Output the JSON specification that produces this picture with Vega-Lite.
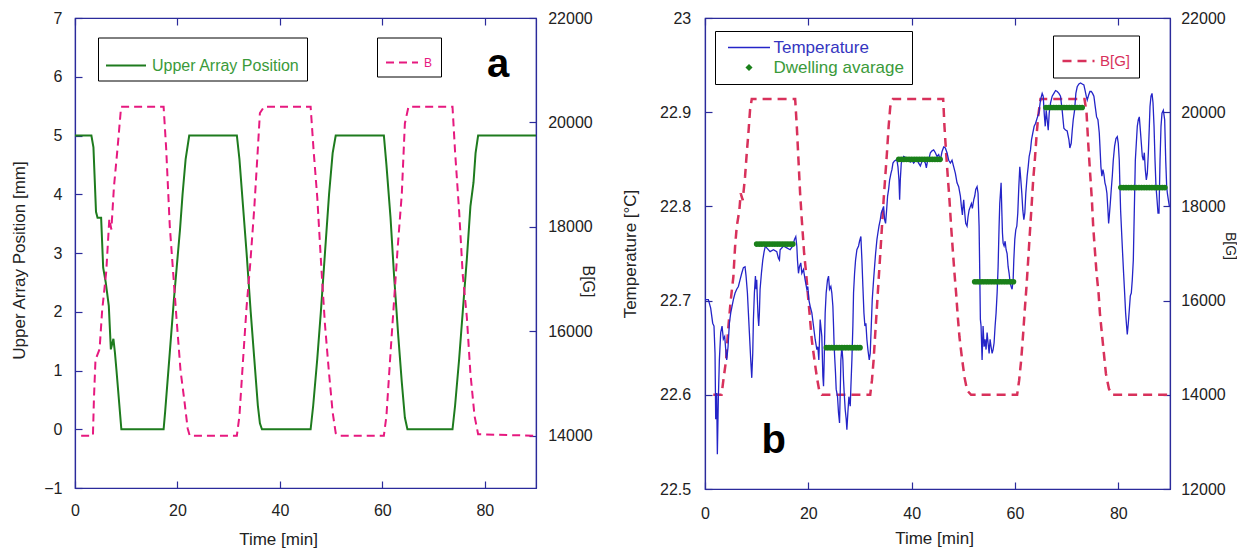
{
"$schema":"https://vega.github.io/schema/vega-lite/v6.json",
"padding":{"left":9,"top":9,"right":0,"bottom":0},
"background":"white",
"spacing":24,
"resolve":{"scale":{"color":"independent","strokeDash":"independent"},"legend":{"color":"independent","strokeDash":"independent"}},
"config":{
 "font":"Liberation Sans",
 "view":{"stroke":"#2b2b9b","strokeWidth":1.2},
 "axis":{"grid":false,"domainColor":"#2b2b9b","domainWidth":1.2,"tickColor":"#2b2b9b","tickWidth":1.2,"tickSize":-7,"labelFont":"Liberation Sans","labelFontSize":16,"labelColor":"#222222","titleFont":"Liberation Sans","titleFontSize":17,"titleFontWeight":"normal","titleColor":"#222222","labelFlush":false,"labelOverlap":false},
 "legend":{"labelFont":"Liberation Sans","strokeColor":"#000000","fillColor":"#ffffff"}
},
"hconcat":[
{
 "width":461,"height":470,
 "layer":[
  {"data":{"values":[
   {"t":0,"p":5},{"t":3.2,"p":5},{"t":3.6,"p":4.8},{"t":4.1,"p":3.7},{"t":4.4,"p":3.6},{"t":5.1,"p":3.6},{"t":5.5,"p":2.75},{"t":6.0,"p":2.5},{"t":6.6,"p":2.1},{"t":7.0,"p":1.36},{"t":7.5,"p":1.54},{"t":7.8,"p":1.3},{"t":8.1,"p":1.0},{"t":9.05,"p":0},
   {"t":17.3,"p":0},{"t":17.6,"p":0.3},{"t":18.5,"p":1.3},{"t":19.3,"p":2.2},{"t":20.0,"p":2.9},{"t":20.5,"p":3.4},{"t":21.0,"p":4.0},{"t":21.6,"p":4.6},{"t":22.3,"p":5},
   {"t":31.6,"p":5},{"t":32.1,"p":4.6},{"t":32.8,"p":3.8},{"t":33.5,"p":3.0},{"t":34.3,"p":2.0},{"t":35.0,"p":1.2},{"t":35.7,"p":0.4},{"t":36.1,"p":0.1},{"t":36.5,"p":0},
   {"t":46,"p":0},{"t":46.5,"p":0.4},{"t":47.3,"p":1.2},{"t":48.0,"p":2.0},{"t":48.8,"p":3.0},{"t":49.6,"p":4.0},{"t":50.3,"p":4.7},{"t":50.9,"p":5},
   {"t":60.3,"p":5},{"t":60.8,"p":4.5},{"t":61.6,"p":3.6},{"t":62.3,"p":2.6},{"t":63.1,"p":1.6},{"t":63.8,"p":0.8},{"t":64.4,"p":0.2},{"t":64.9,"p":0},
   {"t":73.7,"p":0},{"t":74.2,"p":0.4},{"t":75.0,"p":1.2},{"t":75.7,"p":2.0},{"t":76.5,"p":2.9},{"t":77.2,"p":3.8},{"t":77.8,"p":4.2},{"t":78.2,"p":4.7},{"t":78.7,"p":5},{"t":90,"p":5}
  ]},
  "mark":{"type":"line","strokeWidth":2},
  "encoding":{
   "x":{"field":"t","type":"quantitative","scale":{"domain":[0,90]},"axis":{"orient":"bottom","values":[0,20,40,60,80],"title":"Time [min]","labelPadding":21.5,"titleX":203,"titleY":51.5,"titleBaseline":"middle"}},
   "y":{"field":"p","type":"quantitative","scale":{"domain":[-1,7]},"axis":{"orient":"left","values":[-1,0,1,2,3,4,5,6,7],"title":"Upper Array Position [mm]","labelPadding":20,"titleX":-56,"titleY":242,"titleBaseline":"middle"}},
   "color":{"datum":"Upper Array Position","type":"nominal","scale":{"domain":["Upper Array Position"],"range":["#1e7b1e"]},"legend":{"orient":"none","legendX":23,"legendY":19.5,"title":null,"padding":7,"symbolType":"stroke","symbolSize":1600,"symbolStrokeWidth":2,"labelFontSize":16,"labelColor":"#3a9a3a","labelOffset":5}}
  }},
  {"data":{"values":[
   {"t":1.2,"B":14000},{"t":3.5,"B":14000},{"t":3.7,"B":14715},{"t":4.0,"B":15457},{"t":4.8,"B":15660},{"t":5.3,"B":16400},{"t":6.1,"B":17143},{"t":6.7,"B":18155},{"t":7.1,"B":17950},{"t":7.6,"B":18762},{"t":8.3,"B":19500},{"t":9.0,"B":20300},
   {"t":17.3,"B":20300},{"t":17.8,"B":19500},{"t":18.5,"B":18020},{"t":19.3,"B":16940},{"t":19.8,"B":16270},{"t":20.6,"B":15250},{"t":21.3,"B":14715},{"t":22.0,"B":14140},{"t":22.4,"B":14000},
   {"t":31.6,"B":14000},{"t":32.1,"B":14380},{"t":32.9,"B":15590},{"t":33.5,"B":16470},{"t":34.2,"B":17280},{"t":35.0,"B":18360},{"t":35.7,"B":19500},{"t":36.1,"B":20180},{"t":36.9,"B":20300},
   {"t":46.0,"B":20300},{"t":46.6,"B":19440},{"t":47.3,"B":18560},{"t":48.1,"B":17210},{"t":48.8,"B":16130},{"t":49.6,"B":15190},{"t":50.3,"B":14450},{"t":50.9,"B":14050},{"t":51.5,"B":14000},
   {"t":60.3,"B":14000},{"t":60.8,"B":14380},{"t":61.6,"B":15590},{"t":62.3,"B":16600},{"t":63.0,"B":17610},{"t":63.8,"B":18630},{"t":64.4,"B":19980},{"t":65.1,"B":20300},
   {"t":73.7,"B":20300},{"t":74.2,"B":19440},{"t":75.0,"B":18290},{"t":75.7,"B":17080},{"t":76.5,"B":16270},{"t":77.2,"B":15190},{"t":78.0,"B":14380},{"t":78.7,"B":14030},{"t":89.8,"B":14000}
  ]},
  "mark":{"type":"line","strokeWidth":2,"color":"#e6197f"},
  "encoding":{
   "x":{"field":"t","type":"quantitative","scale":{"domain":[0,90]},"axis":{"orient":"top","values":[0,20,40,60,80],"labels":false,"title":null}},
   "y":{"field":"B","type":"quantitative","scale":{"domain":[13000,22000]},"axis":{"orient":"right","values":[14000,16000,18000,20000,22000],"format":"d","title":"B[G]","titleFontSize":16,"labelPadding":18.7,"titleX":51,"titleY":263,"titleBaseline":"middle"}},
   "strokeDash":{"datum":"B","type":"nominal","scale":{"domain":["B"],"range":[[8,5]]},"legend":{"orient":"none","legendX":302,"legendY":19.5,"title":null,"padding":8,"symbolType":"stroke","symbolSize":1024,"symbolStrokeWidth":2,"symbolStrokeColor":"#e6197f","labelFontSize":12,"labelColor":"#e6197f","labelOffset":5}}
  }},
  {"data":{"values":[{"s":"a"}]},
  "mark":{"type":"text","fontSize":40,"fontWeight":"bold","align":"center","baseline":"alphabetic","color":"#000000"},
  "encoding":{"text":{"field":"s"},"x":{"datum":82.6,"type":"quantitative","scale":{"domain":[0,90]},"axis":null},"y":{"datum":6.0,"type":"quantitative","scale":{"domain":[-1,7]},"axis":null}}}
 ],
 "resolve":{"scale":{"y":"independent"},"axis":{"x":"independent"}}
},
{
 "width":465,"height":471,
 "layer":[
  {"data":{"values":[
   {"t":1.6,"B":14000},{"t":3.2,"B":14000},{"t":3.55,"B":14305},{"t":4.07,"B":14730},{"t":4.52,"B":15440},{"t":4.98,"B":16007},{"t":5.49,"B":16504},{"t":5.82,"B":17142},{"t":6.14,"B":17567},{"t":6.65,"B":17922},{"t":6.91,"B":18277},{"t":7.30,"B":18135},{"t":7.75,"B":18631},{"t":8.08,"B":19128},{"t":8.40,"B":19553},{"t":8.72,"B":20050},{"t":9.05,"B":20280},
   {"t":17.45,"B":20280},{"t":17.77,"B":19695},{"t":18.09,"B":18986},{"t":18.41,"B":18277},{"t":18.74,"B":17709},{"t":19.19,"B":17000},{"t":19.58,"B":16575},{"t":19.90,"B":16149},{"t":20.35,"B":15582},{"t":20.68,"B":15156},{"t":21.19,"B":14731},{"t":21.65,"B":14376},{"t":22.16,"B":14057},{"t":22.61,"B":14000},
   {"t":31.98,"B":14000},{"t":32.31,"B":14305},{"t":32.63,"B":14730},{"t":32.95,"B":15298},{"t":33.28,"B":15865},{"t":33.60,"B":16433},{"t":33.93,"B":17000},{"t":34.25,"B":17567},{"t":34.57,"B":18135},{"t":34.89,"B":18631},{"t":35.21,"B":19128},{"t":35.54,"B":19695},{"t":35.86,"B":20120},{"t":36.38,"B":20280},
   {"t":46.1,"B":20280},{"t":46.35,"B":19695},{"t":46.67,"B":19128},{"t":46.99,"B":18631},{"t":47.32,"B":18135},{"t":47.64,"B":17567},{"t":47.96,"B":17071},{"t":48.29,"B":16575},{"t":48.61,"B":16149},{"t":48.93,"B":15653},{"t":49.25,"B":15227},{"t":49.71,"B":14802},{"t":50.22,"B":14376},{"t":50.74,"B":14092},{"t":51.5,"B":14000},
   {"t":60.41,"B":14000},{"t":60.80,"B":14305},{"t":61.19,"B":14730},{"t":61.58,"B":15298},{"t":61.84,"B":15724},{"t":62.22,"B":16291},{"t":62.55,"B":16858},{"t":62.87,"B":17426},{"t":63.20,"B":17993},{"t":63.52,"B":18560},{"t":63.84,"B":18986},{"t":64.16,"B":19482},{"t":64.48,"B":19908},{"t":64.94,"B":20280},
   {"t":73.46,"B":20280},{"t":73.85,"B":19979},{"t":74.17,"B":19340},{"t":74.50,"B":18773},{"t":74.88,"B":18135},{"t":75.14,"B":17567},{"t":75.46,"B":17071},{"t":75.79,"B":16575},{"t":76.18,"B":16149},{"t":76.44,"B":15724},{"t":76.82,"B":15298},{"t":77.21,"B":14873},{"t":77.60,"B":14447},{"t":78.18,"B":14128},{"t":78.83,"B":14000},{"t":89.88,"B":14000}
  ]},
  "mark":{"type":"line","strokeWidth":2.5,"color":"#d8315b"},
  "encoding":{
   "x":{"field":"t","type":"quantitative","scale":{"domain":[0,90]},"axis":{"orient":"top","values":[0,20,40,60,80],"labels":false,"title":null}},
   "y":{"field":"B","type":"quantitative","scale":{"domain":[12000,22000]},"axis":{"orient":"right","values":[12000,14000,16000,18000,20000,22000],"format":"d","title":"B[G]","titleFontSize":14,"labelPadding":17.7,"titleX":59,"titleY":227.5,"titleBaseline":"middle"}},
   "strokeDash":{"datum":"B[G]","type":"nominal","scale":{"domain":["B[G]"],"range":[[9,6]]},"legend":{"orient":"none","legendX":348,"legendY":17.5,"title":null,"padding":8,"symbolType":"stroke","symbolSize":1024,"symbolStrokeWidth":2.5,"symbolStrokeColor":"#d8315b","labelFontSize":15,"labelColor":"#d8315b","labelOffset":4}}
  }},
  {"data":{"values":[
   {"t":0,"T":22.701},{"t":0.65,"T":22.701},{"t":1.10,"T":22.692},{"t":1.49,"T":22.676},{"t":1.74,"T":22.673},{"t":1.94,"T":22.644},{"t":2.07,"T":22.574},{"t":2.26,"T":22.602},{"t":2.39,"T":22.537},{"t":2.58,"T":22.595},{"t":2.78,"T":22.637},{"t":3.04,"T":22.666},{"t":3.30,"T":22.673},{"t":3.55,"T":22.659},{"t":3.81,"T":22.662},{"t":4.07,"T":22.644},{"t":4.20,"T":22.637},{"t":4.46,"T":22.651},{"t":4.72,"T":22.676},{"t":4.98,"T":22.687},{"t":5.23,"T":22.694},{"t":5.49,"T":22.701},{"t":5.82,"T":22.708},{"t":6.14,"T":22.712},{"t":6.46,"T":22.715},{"t":6.78,"T":22.722},{"t":7.11,"T":22.729},{"t":7.43,"T":22.735},{"t":7.75,"T":22.736},{"t":7.95,"T":22.726},{"t":8.21,"T":22.708},{"t":8.40,"T":22.687},{"t":8.59,"T":22.666},{"t":8.85,"T":22.637},{"t":9.05,"T":22.618},{"t":9.24,"T":22.644},{"t":9.37,"T":22.680},{"t":9.56,"T":22.708},{"t":9.76,"T":22.726},{"t":9.89,"T":22.712},{"t":10.01,"T":22.722},{"t":10.14,"T":22.701},{"t":10.27,"T":22.683},{"t":10.40,"T":22.673},{"t":10.53,"T":22.687},{"t":10.66,"T":22.712},{"t":10.92,"T":22.729},{"t":11.18,"T":22.743},{"t":11.44,"T":22.752},{"t":11.69,"T":22.758},{"t":11.95,"T":22.756},{"t":12.60,"T":22.752},{"t":13.25,"T":22.754},{"t":13.89,"T":22.752},{"t":14.21,"T":22.745},{"t":14.41,"T":22.743},{"t":14.54,"T":22.754},{"t":15.18,"T":22.758},{"t":15.83,"T":22.756},{"t":16.48,"T":22.754},{"t":16.99,"T":22.758},{"t":17.32,"T":22.765},{"t":17.57,"T":22.768},{"t":17.77,"T":22.758},{"t":17.90,"T":22.743},{"t":18.09,"T":22.729},{"t":18.28,"T":22.736},{"t":18.54,"T":22.740},{"t":18.74,"T":22.729},{"t":19.06,"T":22.733},{"t":19.38,"T":22.722},{"t":19.71,"T":22.712},{"t":19.90,"T":22.715},{"t":20.09,"T":22.701},{"t":20.35,"T":22.694},{"t":20.68,"T":22.687},{"t":21.00,"T":22.673},{"t":21.32,"T":22.659},{"t":21.65,"T":22.648},{"t":21.84,"T":22.651},{"t":22.03,"T":22.637},
   {"t":22.29,"T":22.680},{"t":22.61,"T":22.662},{"t":22.81,"T":22.620},{"t":22.94,"T":22.609},{"t":23.07,"T":22.637},{"t":23.26,"T":22.687},{"t":23.45,"T":22.708},{"t":23.71,"T":22.722},{"t":23.91,"T":22.726},{"t":24.10,"T":22.712},{"t":24.36,"T":22.715},{"t":24.55,"T":22.708},{"t":24.75,"T":22.694},{"t":24.88,"T":22.673},{"t":25.00,"T":22.651},{"t":25.13,"T":22.637},{"t":25.26,"T":22.623},{"t":25.39,"T":22.606},{"t":25.65,"T":22.598},{"t":25.84,"T":22.581},{"t":26.04,"T":22.570},{"t":26.17,"T":22.602},{"t":26.30,"T":22.637},{"t":26.49,"T":22.651},{"t":26.68,"T":22.637},{"t":26.81,"T":22.616},{"t":26.94,"T":22.602},{"t":27.14,"T":22.584},{"t":27.33,"T":22.574},{"t":27.46,"T":22.563},{"t":27.65,"T":22.581},{"t":27.85,"T":22.598},{"t":28.11,"T":22.588},{"t":28.24,"T":22.609},{"t":28.43,"T":22.637},{"t":28.62,"T":22.673},{"t":28.75,"T":22.708},{"t":28.95,"T":22.729},{"t":29.14,"T":22.743},{"t":29.40,"T":22.754},{"t":29.72,"T":22.758},{"t":29.91,"T":22.763},{"t":30.17,"T":22.768},{"t":30.37,"T":22.743},{"t":30.56,"T":22.715},{"t":30.76,"T":22.687},{"t":30.95,"T":22.673},{"t":31.14,"T":22.676},{"t":31.33,"T":22.659},{"t":31.53,"T":22.648},{"t":31.79,"T":22.637},{"t":31.98,"T":22.644},{"t":32.18,"T":22.673},{"t":32.37,"T":22.701},{"t":32.63,"T":22.722},{"t":32.82,"T":22.736},{"t":33.02,"T":22.750},{"t":33.28,"T":22.765},{"t":33.47,"T":22.772},{"t":33.67,"T":22.779},{"t":33.93,"T":22.786},{"t":34.12,"T":22.793},{"t":34.31,"T":22.796},{"t":34.57,"T":22.800},{"t":34.76,"T":22.786},{"t":34.95,"T":22.782},{"t":35.15,"T":22.796},{"t":35.34,"T":22.811},{"t":35.54,"T":22.818},{"t":35.73,"T":22.828},{"t":35.99,"T":22.835},{"t":36.18,"T":22.839},{"t":36.38,"T":22.846},{"t":36.63,"T":22.848},{"t":36.89,"T":22.849},{"t":37.15,"T":22.849},{"t":37.35,"T":22.842},{"t":37.54,"T":22.828},{"t":37.67,"T":22.807},{"t":37.80,"T":22.828},{"t":37.99,"T":22.846},{"t":38.19,"T":22.849},{"t":38.45,"T":22.853},{"t":38.77,"T":22.852},{"t":39.09,"T":22.851},{"t":39.41,"T":22.849},{"t":39.74,"T":22.847},{"t":40.06,"T":22.849},{"t":40.38,"T":22.846},{"t":40.71,"T":22.848},{"t":41.03,"T":22.849},{"t":41.35,"T":22.846},{"t":41.68,"T":22.843},{"t":42.00,"T":22.848},{"t":42.32,"T":22.849},{"t":42.65,"T":22.846},{"t":42.84,"T":22.841},{"t":43.10,"T":22.849},{"t":43.36,"T":22.851},{"t":43.62,"T":22.857},{"t":43.94,"T":22.859},{"t":44.26,"T":22.860},{"t":44.59,"T":22.857},{"t":44.91,"T":22.853},{"t":45.23,"T":22.855},
   {"t":45.55,"T":22.849},{"t":45.87,"T":22.858},{"t":46.20,"T":22.863},{"t":46.52,"T":22.862},{"t":46.84,"T":22.857},{"t":47.17,"T":22.849},{"t":47.49,"T":22.846},{"t":47.81,"T":22.849},{"t":48.14,"T":22.842},{"t":48.46,"T":22.835},{"t":48.78,"T":22.825},{"t":49.10,"T":22.821},{"t":49.43,"T":22.811},{"t":49.62,"T":22.800},{"t":49.82,"T":22.791},{"t":49.94,"T":22.800},{"t":50.07,"T":22.807},{"t":50.27,"T":22.793},{"t":50.46,"T":22.782},{"t":50.72,"T":22.779},{"t":50.91,"T":22.789},{"t":51.11,"T":22.796},{"t":51.37,"T":22.800},{"t":51.56,"T":22.803},{"t":51.75,"T":22.798},{"t":52.01,"T":22.807},{"t":52.21,"T":22.811},{"t":52.40,"T":22.818},{"t":52.66,"T":22.821},{"t":52.85,"T":22.814},{"t":53.05,"T":22.779},{"t":53.18,"T":22.729},{"t":53.30,"T":22.680},{"t":53.43,"T":22.673},{"t":53.63,"T":22.637},{"t":53.82,"T":22.673},{"t":54.02,"T":22.651},{"t":54.21,"T":22.659},{"t":54.40,"T":22.648},{"t":54.60,"T":22.666},{"t":54.79,"T":22.655},{"t":54.99,"T":22.644},{"t":55.18,"T":22.659},{"t":55.37,"T":22.651},{"t":55.57,"T":22.644},{"t":55.76,"T":22.648},{"t":55.95,"T":22.655},{"t":56.15,"T":22.673},{"t":56.34,"T":22.687},{"t":56.54,"T":22.708},{"t":56.73,"T":22.736},{"t":56.92,"T":22.779},{"t":57.05,"T":22.803},{"t":57.18,"T":22.814},{"t":57.31,"T":22.825},{"t":57.44,"T":22.797},{"t":57.57,"T":22.772},{"t":57.70,"T":22.761},{"t":57.89,"T":22.758},{"t":58.09,"T":22.763},{"t":58.28,"T":22.754},{"t":58.47,"T":22.750},{"t":58.67,"T":22.736},{"t":58.86,"T":22.729},{"t":59.06,"T":22.719},{"t":59.25,"T":22.715},{"t":59.44,"T":22.712},{"t":59.64,"T":22.722},{"t":59.77,"T":22.743},{"t":59.96,"T":22.765},{"t":60.15,"T":22.775},{"t":60.35,"T":22.779},{"t":60.54,"T":22.793},{"t":60.74,"T":22.821},{"t":60.93,"T":22.842},{"t":61.13,"T":22.828},{"t":61.32,"T":22.814},{"t":61.51,"T":22.796},{"t":61.71,"T":22.786},{"t":61.90,"T":22.793},{"t":62.09,"T":22.814},{"t":62.35,"T":22.832},{"t":62.55,"T":22.842},{"t":62.74,"T":22.853},{"t":63.00,"T":22.860},{"t":63.20,"T":22.871},{"t":63.45,"T":22.878},{"t":63.71,"T":22.885},{"t":63.97,"T":22.888},{"t":64.30,"T":22.894},{"t":64.61,"T":22.899},{"t":64.94,"T":22.913},{"t":65.26,"T":22.920},{"t":65.46,"T":22.917},{"t":65.65,"T":22.899},{"t":65.85,"T":22.885},{"t":66.04,"T":22.902},{"t":66.23,"T":22.892},{"t":66.43,"T":22.881},{"t":66.62,"T":22.899},{"t":66.88,"T":22.910},{"t":67.20,"T":22.917},{"t":67.53,"T":22.920},{"t":67.85,"T":22.923},{"t":68.17,"T":22.922},{"t":68.50,"T":22.920},
   {"t":68.81,"T":22.917},{"t":69.13,"T":22.902},{"t":69.46,"T":22.883},{"t":69.78,"T":22.881},{"t":70.10,"T":22.880},{"t":70.43,"T":22.871},{"t":70.62,"T":22.862},{"t":70.88,"T":22.867},{"t":71.07,"T":22.880},{"t":71.27,"T":22.892},{"t":71.53,"T":22.902},{"t":71.78,"T":22.920},{"t":72.04,"T":22.927},{"t":72.37,"T":22.930},{"t":72.69,"T":22.931},{"t":73.01,"T":22.930},{"t":73.33,"T":22.929},{"t":73.53,"T":22.924},{"t":73.79,"T":22.917},{"t":73.98,"T":22.913},{"t":74.24,"T":22.918},{"t":74.50,"T":22.922},{"t":74.76,"T":22.922},{"t":75.01,"T":22.920},{"t":75.27,"T":22.917},{"t":75.53,"T":22.906},{"t":75.79,"T":22.895},{"t":76.05,"T":22.892},{"t":76.31,"T":22.878},{"t":76.44,"T":22.864},{"t":76.63,"T":22.842},{"t":76.82,"T":22.832},{"t":77.02,"T":22.839},{"t":77.21,"T":22.834},{"t":77.41,"T":22.825},{"t":77.60,"T":22.821},{"t":77.79,"T":22.814},{"t":77.99,"T":22.796},{"t":78.12,"T":22.782},{"t":78.24,"T":22.789},{"t":78.44,"T":22.803},{"t":78.63,"T":22.818},{"t":78.83,"T":22.832},{"t":79.02,"T":22.849},{"t":79.28,"T":22.864},{"t":79.54,"T":22.872},{"t":79.80,"T":22.874},{"t":79.99,"T":22.867},{"t":80.18,"T":22.849},{"t":80.31,"T":22.821},{"t":80.44,"T":22.796},{"t":80.64,"T":22.772},{"t":80.83,"T":22.750},{"t":81.02,"T":22.729},{"t":81.22,"T":22.708},{"t":81.41,"T":22.687},{"t":81.60,"T":22.673},{"t":81.73,"T":22.664},{"t":81.93,"T":22.676},{"t":82.12,"T":22.690},{"t":82.32,"T":22.705},{"t":82.51,"T":22.708},{"t":82.70,"T":22.722},{"t":82.90,"T":22.743},{"t":83.03,"T":22.779},{"t":83.16,"T":22.814},{"t":83.29,"T":22.849},{"t":83.48,"T":22.867},{"t":83.67,"T":22.885},{"t":83.87,"T":22.892},{"t":84.06,"T":22.895},{"t":84.26,"T":22.881},{"t":84.45,"T":22.867},{"t":84.64,"T":22.853},{"t":84.84,"T":22.849},{"t":85.03,"T":22.857},{"t":85.22,"T":22.839},{"t":85.42,"T":22.828},{"t":85.61,"T":22.835},{"t":85.81,"T":22.857},{"t":86.00,"T":22.885},{"t":86.13,"T":22.906},{"t":86.32,"T":22.917},{"t":86.52,"T":22.920},{"t":86.71,"T":22.910},{"t":86.91,"T":22.885},{"t":87.10,"T":22.849},{"t":87.29,"T":22.821},{"t":87.49,"T":22.807},{"t":87.68,"T":22.793},{"t":87.87,"T":22.793},{"t":88.07,"T":22.849},{"t":88.26,"T":22.885},{"t":88.45,"T":22.899},{"t":88.71,"T":22.902},{"t":88.97,"T":22.892},{"t":89.17,"T":22.849},{"t":89.36,"T":22.821},{"t":89.49,"T":22.814},{"t":89.68,"T":22.807},{"t":89.88,"T":22.800}
  ]},
  "mark":{"type":"line","strokeWidth":1.3},
  "encoding":{
   "x":{"field":"t","type":"quantitative","scale":{"domain":[0,90]},"axis":{"orient":"bottom","values":[0,20,40,60,80],"title":"Time [min]","labelPadding":23.8,"titleX":229,"titleY":49.5,"titleBaseline":"middle"}},
   "y":{"field":"T","type":"quantitative","scale":{"domain":[22.5,23]},"axis":{"orient":"left","values":[22.5,22.6,22.7,22.8,22.9,23],"format":".3~r","title":"Temperature [°C]","labelPadding":21.3,"titleX":-75,"titleBaseline":"middle"}},
   "color":{"datum":"Temperature","type":"nominal","scale":{"domain":["Temperature","Dwelling avarage"],"range":["#2424c8","#1a801a"]},
    "legend":{"orient":"none","legendX":10,"legendY":13,"title":null,"padding":8,"symbolSize":1764,"symbolType":"stroke","labelFontSize":17,"labelOffset":16,"symbolOffset":17.5,"rowPadding":2,
     "encode":{
      "symbols":{"update":{
       "shape":{"signal":"datum.value === 'Temperature' ? 'stroke' : 'diamond'"},
       "size":{"signal":"datum.value === 'Temperature' ? 1764 : 25"},
       "fill":{"signal":"datum.value === 'Temperature' ? 'transparent' : '#1a801a'"},
       "stroke":{"signal":"datum.value === 'Temperature' ? '#2424c8' : '#1a801a'"},
       "strokeWidth":{"value":1.5},
       "opacity":{"value":1}
      }},
      "labels":{"update":{"fill":{"signal":"datum.value === 'Temperature' ? '#3535c0' : '#3a9a3a'"}}}
     }}}
  }},
  {"data":{"values":[
   {"t":10,"T":22.76},{"t":10.5,"T":22.76},{"t":11,"T":22.76},{"t":11.5,"T":22.76},{"t":12,"T":22.76},{"t":12.5,"T":22.76},{"t":13,"T":22.76},{"t":13.5,"T":22.76},{"t":14,"T":22.76},{"t":14.5,"T":22.76},{"t":15,"T":22.76},{"t":15.5,"T":22.76},{"t":16,"T":22.76},{"t":16.5,"T":22.76},{"t":17,"T":22.76},
   {"t":23.5,"T":22.65},{"t":24,"T":22.65},{"t":24.5,"T":22.65},{"t":25,"T":22.65},{"t":25.5,"T":22.65},{"t":26,"T":22.65},{"t":26.5,"T":22.65},{"t":27,"T":22.65},{"t":27.5,"T":22.65},{"t":28,"T":22.65},{"t":28.5,"T":22.65},{"t":29,"T":22.65},{"t":29.5,"T":22.65},{"t":30,"T":22.65},
   {"t":37.5,"T":22.85},{"t":38,"T":22.85},{"t":38.5,"T":22.85},{"t":39,"T":22.85},{"t":39.5,"T":22.85},{"t":40,"T":22.85},{"t":40.5,"T":22.85},{"t":41,"T":22.85},{"t":41.5,"T":22.85},{"t":42,"T":22.85},{"t":42.5,"T":22.85},{"t":43,"T":22.85},{"t":43.5,"T":22.85},{"t":44,"T":22.85},{"t":44.5,"T":22.85},{"t":45,"T":22.85},{"t":45.5,"T":22.85},
   {"t":52.2,"T":22.72},{"t":52.7,"T":22.72},{"t":53.2,"T":22.72},{"t":53.7,"T":22.72},{"t":54.2,"T":22.72},{"t":54.7,"T":22.72},{"t":55.2,"T":22.72},{"t":55.7,"T":22.72},{"t":56.2,"T":22.72},{"t":56.7,"T":22.72},{"t":57.2,"T":22.72},{"t":57.7,"T":22.72},{"t":58.2,"T":22.72},{"t":58.7,"T":22.72},{"t":59.2,"T":22.72},{"t":59.7,"T":22.72},
   {"t":66,"T":22.905},{"t":66.5,"T":22.905},{"t":67,"T":22.905},{"t":67.5,"T":22.905},{"t":68,"T":22.905},{"t":68.5,"T":22.905},{"t":69,"T":22.905},{"t":69.5,"T":22.905},{"t":70,"T":22.905},{"t":70.5,"T":22.905},{"t":71,"T":22.905},{"t":71.5,"T":22.905},{"t":72,"T":22.905},{"t":72.5,"T":22.905},{"t":73,"T":22.905},
   {"t":80.5,"T":22.82},{"t":81,"T":22.82},{"t":81.5,"T":22.82},{"t":82,"T":22.82},{"t":82.5,"T":22.82},{"t":83,"T":22.82},{"t":83.5,"T":22.82},{"t":84,"T":22.82},{"t":84.5,"T":22.82},{"t":85,"T":22.82},{"t":85.5,"T":22.82},{"t":86,"T":22.82},{"t":86.5,"T":22.82},{"t":87,"T":22.82},{"t":87.5,"T":22.82},{"t":88,"T":22.82},{"t":88.5,"T":22.82},{"t":89,"T":22.82}
  ]},
  "mark":{"type":"point","shape":"circle","filled":true,"size":32,"opacity":1},
  "encoding":{
   "x":{"field":"t","type":"quantitative","scale":{"domain":[0,90]},"axis":null},
   "y":{"field":"T","type":"quantitative","scale":{"domain":[22.5,23]},"axis":null},
   "color":{"datum":"Dwelling avarage","type":"nominal"}
  }},
  {"data":{"values":[{"s":"b"}]},
  "mark":{"type":"text","fontSize":40,"fontWeight":"bold","align":"center","baseline":"alphabetic","color":"#000000"},
  "encoding":{"text":{"field":"s"},"x":{"datum":13.3,"type":"quantitative","scale":{"domain":[0,90]},"axis":null},"y":{"datum":22.538,"type":"quantitative","scale":{"domain":[22.5,23]},"axis":null}}}
 ],
 "resolve":{"scale":{"y":"independent"},"axis":{"x":"independent"}}
}
]
}
